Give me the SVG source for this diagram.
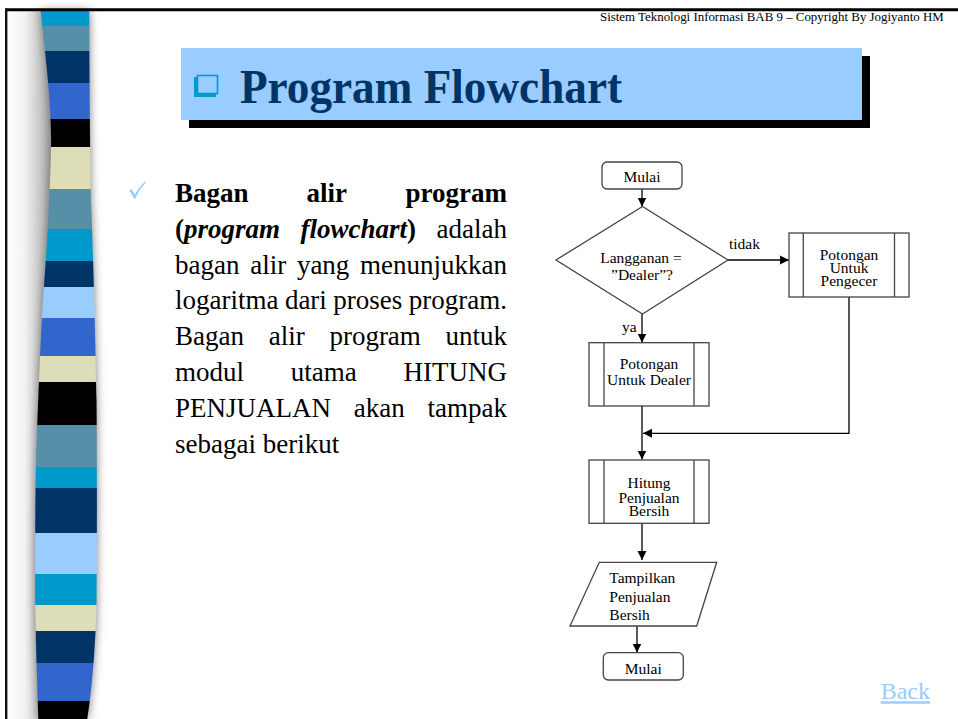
<svg xmlns="http://www.w3.org/2000/svg" width="958" height="719" viewBox="0 0 958 719">
<style>
.body{font-family:"Liberation Serif","Times New Roman",serif;font-size:27px;fill:#000}
.b{font-weight:bold}
.bi{font-weight:bold;font-style:italic}
.fc{font-family:"Liberation Serif","Times New Roman",serif;font-size:15.5px;fill:#000}
.box{fill:#fff;stroke:#444;stroke-width:1.3}
.ln{fill:none;stroke:#000;stroke-width:1.3}
.mid{text-anchor:middle}
.end{text-anchor:end}
</style>
<defs>
<marker id="ah" markerWidth="10" markerHeight="10" refX="9" refY="5" orient="auto" markerUnits="userSpaceOnUse"><path d="M0,0.5 L9,5 L0,9.5 z" fill="#000"/></marker>
<linearGradient id="lg" x1="0" y1="0" x2="1" y2="0">
<stop offset="0" stop-color="#ffffff"/>
<stop offset="0.35" stop-color="#f3f3f3"/>
<stop offset="0.75" stop-color="#bdbdbd"/>
<stop offset="1" stop-color="#8a8a8a"/>
</linearGradient>
<filter id="bl" x="-50%" y="-5%" width="200%" height="110%"><feGaussianBlur stdDeviation="5"/></filter>
<clipPath id="rib"><path d="M40.7,11 C46,60 52,110 51,150 C50,200 46,260 43,300 C41,330 39,380 37,430 C35,480 35,560 35.3,605 C36,660 38,700 38.3,719 L87.3,719 C92,690 96,640 96.5,600 C97,540 97,450 96.5,400 C95.5,340 93,250 91,200 C90,150 89.3,60 89.3,11 Z"/></clipPath>
</defs>
<rect x="0" y="0" width="958" height="719" fill="#fff"/>

<g id="sidebar">
<rect x="7.5" y="11" width="48" height="708" fill="url(#lg)"/>
<path d="M40.7,11 C46,60 52,110 51,150 C50,200 46,260 43,300 C41,330 39,380 37,430 C35,480 35,560 35.3,605 C36,660 38,700 38.3,719 L87.3,719 C92,690 96,640 96.5,600 C97,540 97,450 96.5,400 C95.5,340 93,250 91,200 C90,150 89.3,60 89.3,11 Z" fill="#7a7a7a" filter="url(#bl)"/>
<g clip-path="url(#rib)">
<rect x="30" y="11" width="75" height="15" fill="#0099CC"/>
<rect x="30" y="26" width="75" height="25" fill="#5590A8"/>
<rect x="30" y="51" width="75" height="32" fill="#003366"/>
<rect x="30" y="83" width="75" height="36" fill="#3366CC"/>
<rect x="30" y="119" width="75" height="28" fill="#000000"/>
<rect x="30" y="147" width="75" height="42" fill="#DDDDB8"/>
<rect x="30" y="189" width="75" height="40" fill="#5590A8"/>
<rect x="30" y="229" width="75" height="32" fill="#0099CC"/>
<rect x="30" y="261" width="75" height="26" fill="#003366"/>
<rect x="30" y="287" width="75" height="31" fill="#99CCFF"/>
<rect x="30" y="318" width="75" height="38" fill="#3366CC"/>
<rect x="30" y="356" width="75" height="26" fill="#DDDDB8"/>
<rect x="30" y="382" width="75" height="43" fill="#000000"/>
<rect x="30" y="425" width="75" height="42" fill="#5590A8"/>
<rect x="30" y="467" width="75" height="21" fill="#0099CC"/>
<rect x="30" y="488" width="75" height="45" fill="#003366"/>
<rect x="30" y="533" width="75" height="41" fill="#99CCFF"/>
<rect x="30" y="574" width="75" height="31" fill="#0099CC"/>
<rect x="30" y="605" width="75" height="26" fill="#DDDDB8"/>
<rect x="30" y="631" width="75" height="32" fill="#003366"/>
<rect x="30" y="663" width="75" height="38" fill="#3366CC"/>
<rect x="30" y="701" width="75" height="18" fill="#000000"/>
</g>
</g>

<g id="frame">
<line x1="5" y1="9.7" x2="958" y2="9.7" stroke="#000" stroke-width="3"/>
<line x1="6.2" y1="8.5" x2="6.2" y2="719" stroke="#111" stroke-width="2.4"/>
</g>

<text id="header" x="600" y="21" font-family="Liberation Serif, Times New Roman, serif" font-size="12.9" fill="#000">Sistem Teknologi Informasi BAB 9 – Copyright By Jogiyanto HM</text>

<g id="title">
<rect x="189" y="56" width="681" height="72" fill="#000"/>
<rect x="181" y="48" width="681" height="72" fill="#99CCFF"/>
<rect x="194" y="77" width="22" height="20" fill="#0099CC"/>
<rect x="197.5" y="75.5" width="20" height="18" fill="#99CCFF" stroke="#0099CC" stroke-width="1.6"/>
<text x="240" y="103" font-family="Liberation Serif, Times New Roman, serif" font-size="48" font-weight="bold" fill="#003366" textLength="382" lengthAdjust="spacingAndGlyphs">Program Flowchart</text>
</g>

<g id="body">
<path id="bullet" d="M129.5,190.5 L131.5,189 L135,194.5 C138,189 141,185 145.5,181.5 L146,182.5 C141.5,187 138.5,191.5 135.5,198.5 L134,198.5 Z" fill="#99CCFF"/>
<text class="body b" x="175" y="202">Bagan</text>
<text class="body b" x="306.5" y="202">alir</text>
<text class="body b end" x="507" y="202">program</text>
<text class="body" x="175" y="237.8"><tspan class="b">(</tspan><tspan class="bi">program</tspan></text>
<text class="body" x="300.5" y="237.8"><tspan class="bi">flowchart</tspan><tspan class="b">)</tspan></text>
<text class="body end" x="507" y="237.8">adalah</text>
<text class="body" x="175" y="273.6">bagan</text>
<text class="body" x="250.2" y="273.6">alir</text>
<text class="body" x="296.9" y="273.6">yang</text>
<text class="body end" x="507" y="273.6">menunjukkan</text>
<text class="body" x="175" y="309.4">logaritma</text>
<text class="body" x="284.9" y="309.4">dari</text>
<text class="body" x="333.3" y="309.4">proses</text>
<text class="body end" x="507" y="309.4">program.</text>
<text class="body" x="175" y="345.2">Bagan</text>
<text class="body" x="268.7" y="345.2">alir</text>
<text class="body" x="329.4" y="345.2">program</text>
<text class="body end" x="507" y="345.2">untuk</text>
<text class="body" x="175" y="381">modul</text>
<text class="body" x="290.7" y="381">utama</text>
<text class="body end" x="507" y="381">HITUNG</text>
<text class="body" x="175" y="416.8">PENJUALAN</text>
<text class="body" x="353.8" y="416.8">akan</text>
<text class="body end" x="507" y="416.8">tampak</text>
<text class="body" x="175" y="452.6">sebagai berikut</text>
</g>

<g id="connectors">
<line class="ln" x1="642" y1="189" x2="642" y2="206.5" marker-end="url(#ah)"/>
<line class="ln" x1="728" y1="260" x2="789" y2="260" marker-end="url(#ah)"/>
<line class="ln" x1="642" y1="314" x2="642" y2="342.5" marker-end="url(#ah)"/>
<line class="ln" x1="642" y1="406" x2="642" y2="459.5" marker-end="url(#ah)"/>
<polyline class="ln" points="849,297 849,433.3 643,433.3" marker-end="url(#ah)"/>
<line class="ln" x1="642" y1="523.3" x2="642" y2="560" marker-end="url(#ah)"/>
<line class="ln" x1="637" y1="626" x2="637" y2="652.5" marker-end="url(#ah)"/>
<text class="fc" x="729" y="249">tidak</text>
<text class="fc" x="622" y="332">ya</text>
</g>

<g id="start">
<rect class="box" x="602" y="162" width="80" height="27" rx="5"/>
<text class="fc mid" x="642" y="182">Mulai</text>
</g>

<g id="decision">
<polygon class="box" points="556,260 642.5,206.5 728,260 642.5,314"/>
<text class="fc mid" x="641" y="262.5">Langganan =</text>
<text class="fc mid" x="642" y="280">”Dealer”?</text>
</g>

<g id="pengecer">
<rect class="box" x="789" y="233" width="120" height="64"/>
<line class="box" x1="803.3" y1="233" x2="803.3" y2="297"/>
<line class="box" x1="894.5" y1="233" x2="894.5" y2="297"/>
<text class="fc mid" x="849" y="260">Potongan</text>
<text class="fc mid" x="849" y="272.7">Untuk</text>
<text class="fc mid" x="849" y="286">Pengecer</text>
</g>

<g id="dealer">
<rect class="box" x="589" y="342.7" width="120" height="63.3"/>
<line class="box" x1="604" y1="342.7" x2="604" y2="406"/>
<line class="box" x1="694" y1="342.7" x2="694" y2="406"/>
<text class="fc mid" x="649" y="369.3">Potongan</text>
<text class="fc mid" x="649" y="385">Untuk Dealer</text>
</g>

<g id="hitung">
<rect class="box" x="589" y="460" width="120" height="63.3"/>
<line class="box" x1="604" y1="460" x2="604" y2="523.3"/>
<line class="box" x1="694" y1="460" x2="694" y2="523.3"/>
<text class="fc mid" x="649" y="488.3">Hitung</text>
<text class="fc mid" x="649" y="502.7">Penjualan</text>
<text class="fc mid" x="649" y="516">Bersih</text>
</g>

<g id="tampilkan">
<polygon class="box" points="599.3,562.3 716.7,562.3 696.7,626 570,626"/>
<text class="fc" x="609.3" y="583.3">Tampilkan</text>
<text class="fc" x="609.3" y="601.7">Penjualan</text>
<text class="fc" x="609.3" y="620">Bersih</text>
</g>

<g id="end">
<rect class="box" x="603.3" y="652.7" width="80" height="27.3" rx="5"/>
<text class="fc mid" x="643.3" y="674">Mulai</text>
</g>

<text id="back" x="880.7" y="699.3" font-family="Liberation Serif, Times New Roman, serif" font-size="24" fill="#99CCFF" text-decoration="underline">Back</text>
</svg>
